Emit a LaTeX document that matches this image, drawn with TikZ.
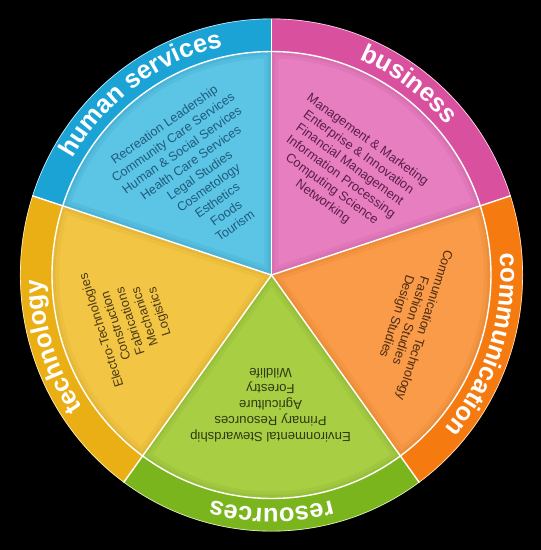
\documentclass[tikz,border=0pt]{standalone}
\usepackage{fontspec}
\setmainfont{Liberation Sans}
\usetikzlibrary{decorations.text}

\definecolor{hsR}{HTML}{1AA3D4}\definecolor{hsI}{HTML}{5CC4E4}\definecolor{hsT}{HTML}{1E5B7C}
\definecolor{buR}{HTML}{D9509F}\definecolor{buI}{HTML}{E67EBF}\definecolor{buT}{HTML}{5A1E46}
\definecolor{coR}{HTML}{F57B10}\definecolor{coI}{HTML}{F99B48}\definecolor{coT}{HTML}{4A2A12}
\definecolor{reR}{HTML}{7AB51D}\definecolor{reI}{HTML}{A8CE44}\definecolor{reT}{HTML}{2F3A12}
\definecolor{teR}{HTML}{EAAF14}\definecolor{teI}{HTML}{F3C545}\definecolor{teT}{HTML}{4A3A12}

\def\XR{251.5}\def\YR{256.5}\def\xr{219.5}\def\yr{223.5}
\def\bx{229}\def\by{233.5}
\def\labfont{\fontsize{25.5}{25.5}\selectfont\bfseries}

\newcommand\mysector[4]{%
  \fill[#3] (0,0) -- (#1:\XR\space and \YR) arc[start angle=#1,end angle=#2,x radius=\XR,y radius=\YR] -- cycle;
  \fill[#4] (0,0) -- (#1:\xr\space and \yr) arc[start angle=#1,end angle=#2,x radius=\xr,y radius=\yr] -- cycle;
  \begin{scope}
    \clip (0,0) -- (#1:\xr\space and \yr) arc[start angle=#1,end angle=#2,x radius=\xr,y radius=\yr] -- cycle;
    \draw[#3!80!black, opacity=.10, line width=14] (0,0) -- (#1:\xr\space and \yr) arc[start angle=#1,end angle=#2,x radius=\xr,y radius=\yr] -- cycle;
    \draw[#3!80!black, opacity=.12, line width=7] (0,0) -- (#1:\xr\space and \yr) arc[start angle=#1,end angle=#2,x radius=\xr,y radius=\yr] -- cycle;
  \end{scope}
}

\tikzset{
  itext/.style={align=center, inner sep=0pt},
  sep/.style={draw=white, line width=1.4pt},
}

\begin{document}
\begin{tikzpicture}[x=1pt,y=1pt]
\useasboundingbox (-271.5,-275) rectangle (269.5,275);
\fill[black] (-271.5,-275) rectangle (269.5,275);

\mysector{90}{162}{hsR}{hsI}
\mysector{18}{90}{buR}{buI}
\mysector{-54}{18}{coR}{coI}
\mysector{-126}{-54}{reR}{reI}
\mysector{162}{234}{teR}{teI}

% white separators
\coordinate (c) at (0,0);
\foreach \a/\n in {90/p1,18/p2,-54/p3,-126/p4,162/p5}{
  \coordinate (\n) at (\a:\XR\space and \YR);
  \draw[sep] (c) -- (\n);
}
\draw[sep] (0,0) ellipse[x radius=\xr, y radius=\yr];
\draw[white, line width=0.6pt, opacity=.8] (0,0) ellipse[x radius=\XR-0.4, y radius=\YR-0.4];

% ring labels
\path[decorate, decoration={text along path, text align=center, text color=white,
  text={|\labfont|human services}}]
  (176:\bx\space and \by) arc[start angle=176, end angle=76, x radius=\bx, y radius=\by];
\path[decorate, decoration={text along path, text align=center, text color=white,
  text={|\labfont|business}}]
  (104:\bx\space and \by) arc[start angle=104, end angle=4, x radius=\bx, y radius=\by];
\path[decorate, decoration={text along path, text align=center, text color=white,
  text={|\labfont|communication}}]
  (32:\bx\space and \by) arc[start angle=32, end angle=-68, x radius=\bx, y radius=\by];
\path[decorate, decoration={text along path, text align=center, text color=white,
  text={|\labfont|resources}}]
  (-40:\bx\space and \by) arc[start angle=-40, end angle=-140, x radius=\bx, y radius=\by];
\path[decorate, decoration={text along path, text align=center, text color=white,
  text={|\labfont|technology}}]
  (248:\bx\space and \by) arc[start angle=248, end angle=148, x radius=\bx, y radius=\by];

% inner texts
\node[itext, text=hsT, rotate=35, font=\fontsize{12.6}{15.4}\selectfont] (hs) at (-72,100)
  {Recreation Leadership\\Community Care Services\\Human \& Social Services\\Health Care Services\\Legal Studies\\Cosmetology\\Esthetics\\Foods\\Tourism};
\node[itext, text=buT, rotate=-36, font=\fontsize{12.8}{15.2}\selectfont] (bu) at (73.5,104)
  {Management \& Marketing\\Enterprise \& Innovation\\Financial Management\\Information Processing\\Computing Science\\Networking};
\node[itext, text=coT, rotate=-108, font=\fontsize{12.8}{14.5}\selectfont] (co) at (138.5,-45.5)
  {Communication Technology\\Fashion Studies\\Design Studies};
\node[itext, text=reT, rotate=180, font=\fontsize{13.2}{16}\selectfont] (re) at (-1,-130)
  {Environmental Stewardship\\Primary Resources\\Agriculture\\Forestry\\Wildlife};
\node[itext, text=teT, rotate=108, font=\fontsize{12.8}{15.2}\selectfont] (te) at (-140.5,-46)
  {Electro-Technologies\\Construction\\Fabrications\\Mechanics\\Logistics};
\end{tikzpicture}
\end{document}
